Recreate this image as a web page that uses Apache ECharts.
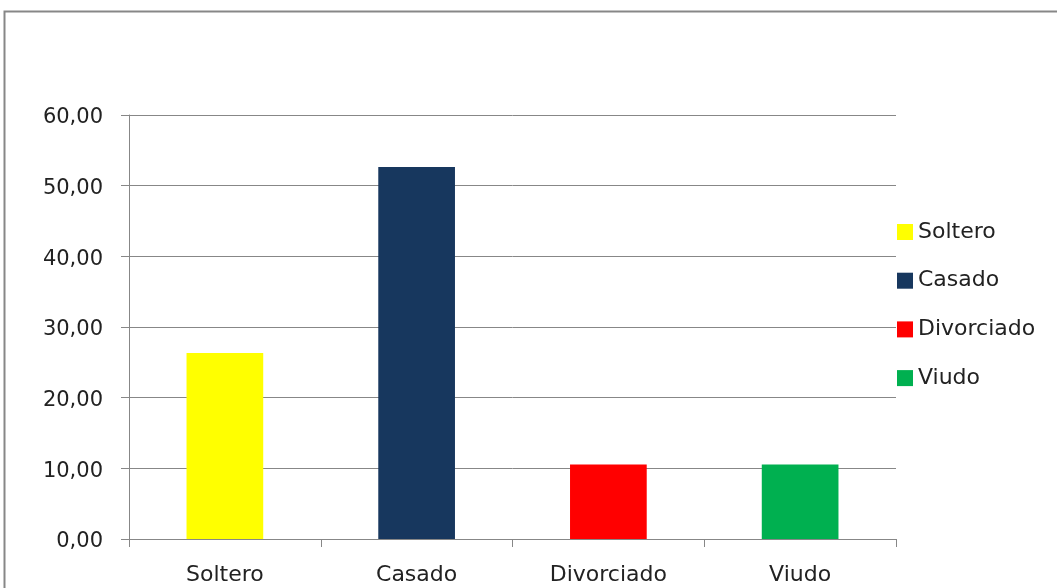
<!DOCTYPE html>
<html>
<head>
<meta charset="utf-8">
<script src="https://cdn.jsdelivr.net/npm/echarts@6/dist/echarts.min.js"></script>
<style>
  html, body { margin: 0; padding: 0; background: #fff; }
  #chart { width: 1057px; height: 588px; }
</style>
</head>
<body>
<div id="chart"></div>
<script>
// Estado civil (%)
const categories = ['Soltero', 'Casado', 'Divorciado', 'Viudo'];
const values = [26.32, 52.63, 10.53, 10.53];
const barColors = ['#FFFF00', '#17375E', '#FF0000', '#00B050'];
const yTicks = [0, 10, 20, 30, 40, 50, 60];

const FONT = 'DejaVu Sans';
const GRID_COLOR = '#878787';

// One series per category so each gets its own legend entry;
// stacking keeps every bar centred on its own category.
const series = categories.map((name, i) => ({
  name: name,
  type: 'bar',
  stack: 'estado',
  barWidth: '40%',
  itemStyle: { color: barColors[i] },
  data: categories.map((_, j) => (j === i ? values[i] : null))
}));

const chart = echarts.init(document.getElementById('chart'), null, { renderer: 'canvas' });
chart.setOption({
  animation: false,
  backgroundColor: '#ffffff',
  textStyle: { fontFamily: FONT },
  graphic: [{
    type: 'rect',
    shape: { x: 4.5, y: 11.5, width: 1200, height: 700 },
    style: { fill: 'none', stroke: GRID_COLOR, lineWidth: 2 },
    silent: true
  }],
  grid: { left: 129, right: 161, top: 115, bottom: 49, containLabel: false },
  legend: {
    orient: 'vertical',
    left: 892,
    top: 216,
    itemWidth: 16,
    itemHeight: 16,
    itemGap: 26.7,
    icon: 'rect',
    data: categories,
    textStyle: { fontFamily: FONT, fontSize: 22, lineHeight: 22, color: '#222' }
  },
  xAxis: {
    type: 'category',
    data: categories,
    axisLine: { lineStyle: { color: GRID_COLOR, width: 1 } },
    axisTick: { show: true, length: 8, alignWithLabel: false, lineStyle: { color: GRID_COLOR } },
    axisLabel: { margin: 25, fontFamily: FONT, fontSize: 22, color: '#222' }
  },
  yAxis: {
    type: 'value',
    min: yTicks[0],
    max: yTicks[yTicks.length - 1],
    interval: yTicks[1] - yTicks[0],
    axisLine: { show: true, lineStyle: { color: GRID_COLOR, width: 1 } },
    axisTick: { show: true, length: 8, lineStyle: { color: GRID_COLOR } },
    splitLine: { show: true, lineStyle: { color: GRID_COLOR, width: 1 } },
    axisLabel: {
      margin: 26,
      verticalAlign: 'top',
      lineHeight: 6,
      fontFamily: FONT,
      fontSize: 21,
      color: '#222',
      formatter: v => v.toFixed(2).replace('.', ',')
    }
  },
  series: series
});
</script>
</body>
</html>
